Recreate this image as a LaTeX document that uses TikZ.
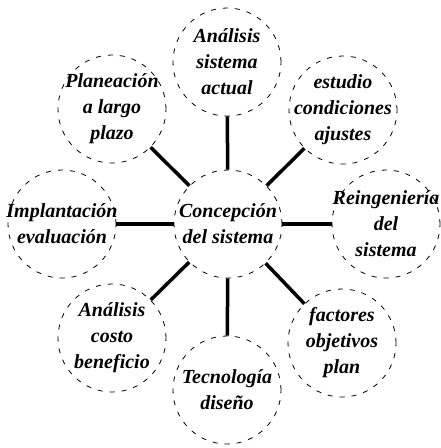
\documentclass[tikz,border=0pt]{standalone}
\usepackage{fontspec}
\setmainfont{Liberation Serif}
\usetikzlibrary{positioning}

\begin{document}
\begin{tikzpicture}[
  x=1pt, y=-1pt,
  bub/.style={circle, draw, dash pattern=on 5pt off 7pt, line width=0.8pt,
    minimum size=108pt, inner sep=0pt},
  txt/.style={font=\fontsize{20}{26}\selectfont\bfseries\itshape, align=center, inner sep=0pt},
  link/.style={line width=3.5pt},
]
  \useasboundingbox (0,0) rectangle (440,448);

  % circles
  \node[bub] (ctr)  at (228,224) {};
  \node[bub] (top)  at (227,62)  {};
  \node[bub] (plan) at (112,109) {};
  \node[bub] (est)  at (343,110) {};
  \node[bub] (impl) at (62,224)  {};
  \node[bub] (rein) at (386,224) {};
  \node[bub] (cost) at (112,338) {};
  \node[bub] (tec)  at (227,390) {};
  \node[bub] (fac)  at (342,343) {};

  % texts
  \node[txt] (ctr-t)  at (ctr)  {Concepción\\del sistema};
  \node[txt] (top-t)  at (top)  {Análisis\\sistema\\actual};
  \node[txt] (plan-t) at (plan) {Planeación\\a largo\\plazo};
  \node[txt] (est-t)  at (est)  {estudio\\condiciones\\ajustes};
  \node[txt] (impl-t) at (impl) {Implantación\\evaluación};
  \node[txt] (rein-t) at (rein) {Reingeniería\\del\\sistema};
  \node[txt] (cost-t) at (cost) {Análisis\\costo\\beneficio};
  \node[txt] (tec-t)  at (tec)  {Tecnología\\diseño};
  \node[txt] (fac-t)  at (fac)  {factores\\objetivos\\plan};

  % links
  \draw[link] (ctr) -- (top);
  \draw[link] (ctr) -- (plan);
  \draw[link] (ctr) -- (est);
  \draw[link] (ctr) -- (impl);
  \draw[link] (ctr) -- (rein);
  \draw[link] (ctr) -- (cost);
  \draw[link] (ctr) -- (tec);
  \draw[link] (ctr) -- (fac);
\end{tikzpicture}
\end{document}
